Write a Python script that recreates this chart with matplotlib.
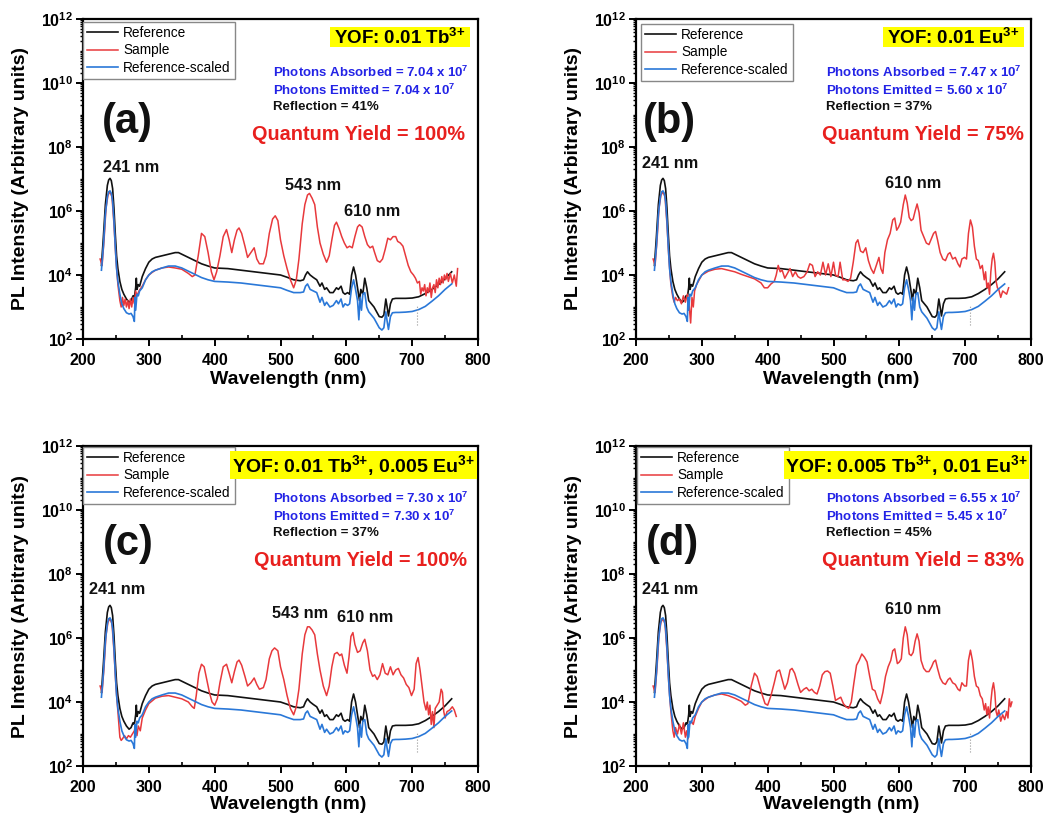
import numpy as np
import matplotlib
matplotlib.use('Agg')
import matplotlib.pyplot as plt
from matplotlib.ticker import LogLocator, MultipleLocator, FuncFormatter, NullFormatter
from matplotlib.patches import Rectangle

plt.rcParams['font.family'] = ['Liberation Sans', 'DejaVu Sans']
plt.rcParams['mathtext.fontset'] = 'custom'
plt.rcParams['mathtext.rm'] = 'Liberation Sans'
plt.rcParams['mathtext.bf'] = 'Liberation Sans:bold'
plt.rcParams['mathtext.it'] = 'Liberation Sans:italic'

# ---------------- data (log10 of PL intensity) ----------------
wl_ref = [228, 231, 234, 237, 239, 241, 243, 245, 247, 249, 251, 253, 256, 259, 262, 266, 270, 273,
          276, 278, 280, 281, 282, 284, 286, 290, 295, 300, 305, 310, 320, 330, 340, 345, 350, 360,
          370, 380, 390, 400, 420, 440, 460, 480, 500, 510, 520, 530, 535, 538, 541, 545, 550, 555,
          560, 563, 567, 570, 575, 580, 585, 588, 592, 595, 598, 602, 605, 608, 611, 614, 617, 620,
          622, 625, 628, 631, 634, 638, 642, 646, 650, 654, 657, 660, 662, 664, 667, 670, 675, 680,
          690, 700, 710, 720, 730, 740, 750, 760]
reference_log = [4.3, 5.2, 6.2, 6.8, 6.97, 7.02, 6.95, 6.7, 6.1, 5.3, 4.6, 4.2, 3.8, 3.55, 3.4, 3.25,
                 3.15, 3.2, 3.35, 3.3, 3.6, 3.9, 3.55, 3.7, 3.65, 3.95, 4.2, 4.4, 4.5, 4.55, 4.6, 4.65,
                 4.7, 4.7, 4.65, 4.55, 4.45, 4.35, 4.28, 4.22, 4.2, 4.15, 4.1, 4.05, 4.0, 3.93, 3.85,
                 3.82, 3.85, 4.0, 4.1, 4.0, 3.92, 3.85, 3.65, 3.75, 3.55, 3.6, 3.45, 3.45, 3.6, 3.55,
                 3.65, 3.45, 3.4, 3.45, 3.4, 4.0, 4.25, 4.0, 3.6, 3.2, 3.55, 3.4, 3.9, 3.6, 3.2, 3.1,
                 3.0, 2.85, 2.7, 2.68, 2.75, 3.25, 3.0, 2.72, 3.1, 3.25, 3.27, 3.27, 3.27, 3.28, 3.32,
                 3.42, 3.55, 3.7, 3.88, 4.1]

wl_scaled = [228, 231, 234, 237, 239, 241, 243, 245, 247, 249, 251, 253, 256, 259, 262, 266, 270, 273,
             276, 278, 279, 280, 282, 284, 286, 290, 295, 300, 305, 310, 320, 330, 340, 350, 360, 370,
             380, 390, 400, 420, 440, 460, 480, 500, 510, 520, 530, 535, 538, 541, 545, 550, 555, 560,
             563, 567, 570, 575, 580, 585, 588, 592, 595, 598, 602, 605, 608, 611, 614, 617, 619, 621,
             623, 625, 628, 631, 634, 638, 642, 646, 650, 654, 657, 660, 662, 664, 667, 670, 675, 680,
             690, 700, 710, 720, 730, 740, 750, 760]
scaled_log = [4.15, 4.9, 5.9, 6.45, 6.6, 6.63, 6.55, 6.3, 5.7, 4.9, 4.2, 3.8, 3.4, 3.1, 2.95, 2.82,
              2.78, 2.8, 2.7, 2.55, 3.3, 2.9, 3.4, 3.35, 3.5, 3.6, 3.85, 4.0, 4.1, 4.15, 4.22, 4.28,
              4.28, 4.22, 4.12, 4.02, 3.92, 3.85, 3.8, 3.78, 3.75, 3.7, 3.65, 3.6, 3.52, 3.45, 3.45,
              3.47, 3.65, 3.72, 3.55, 3.5, 3.45, 3.15, 3.3, 3.05, 3.15, 3.0, 3.05, 3.2, 3.1, 3.25,
              3.0, 3.1, 3.05, 3.1, 3.6, 3.85, 3.55, 3.2, 2.6, 3.3, 2.9, 3.4, 3.45, 3.0, 2.85, 2.75,
              2.65, 2.5, 2.35, 2.28, 2.35, 2.85, 2.55, 2.3, 2.7, 2.82, 2.83, 2.83, 2.84, 2.86, 2.92,
              3.02, 3.18, 3.35, 3.55, 3.72]

wl_start = [226, 229, 232, 235, 238, 241, 244, 247, 250, 253]
start_log = [4.5, 4.3, 5.1, 6.1, 6.5, 6.6, 6.45, 5.6, 4.5, 3.7]

wl_a = [256, 258, 260, 262, 264, 266, 268, 270, 272, 274, 276, 278, 280, 282, 285, 290, 295, 300, 305,
        310, 320, 330, 340, 350, 360, 366, 370, 375, 380, 385, 390, 395, 399, 403, 408, 413, 418, 422,
        426, 430, 434, 437, 441, 446, 450, 455, 460, 464, 468, 474, 478, 483, 488, 492, 496, 500, 505,
        510, 515, 520, 524, 528, 533, 537, 541, 544, 548, 552, 556, 560, 565, 570, 574, 578, 582, 585,
        589, 593, 597, 601, 605, 609, 613, 617, 620, 624, 628, 632, 636, 640, 643, 647, 651, 655, 659,
        663, 667, 671, 675, 678, 682, 686, 690, 694, 698, 702, 705, 708, 711, 713, 715, 717, 719, 721,
        723, 725, 727, 729, 731, 733, 735, 737, 739, 741, 743, 745, 747, 749, 751, 753, 755, 758, 761,
        764, 767, 769]
sample_a_log = [3.2, 3.0, 3.3, 3.05, 3.25, 3.0, 3.2, 2.95, 3.25, 3.0, 3.3, 3.1, 3.5, 3.35, 3.5, 3.65,
                3.85, 4.0, 4.08, 4.15, 4.22, 4.25, 4.22, 4.18, 4.05, 3.95, 4.0, 4.6, 5.3, 5.2, 4.7,
                4.1, 3.85, 4.1, 4.6, 5.2, 5.42, 5.1, 4.7, 5.1, 5.4, 5.47, 5.3, 4.9, 4.55, 4.7, 4.85,
                4.5, 4.35, 4.35, 4.6, 5.3, 5.75, 5.85, 5.7, 5.1, 4.6, 4.2, 3.85, 3.6, 3.85, 4.5, 5.6,
                6.2, 6.5, 6.55, 6.4, 6.2, 5.5, 5.0, 4.65, 4.4, 4.6, 5.1, 5.55, 5.65, 5.45, 5.2, 5.0,
                4.85, 4.9, 4.85, 5.2, 5.5, 5.57, 5.5, 5.2, 4.95, 4.85, 4.9, 4.7, 4.45, 4.4, 4.5, 4.8,
                5.15, 5.1, 5.2, 5.2, 5.05, 5.0, 4.9, 4.6, 4.3, 4.1, 4.0, 3.9, 3.75, 3.8, 3.4, 3.6,
                3.5, 3.7, 3.35, 3.6, 3.45, 3.75, 3.3, 3.6, 3.7, 3.45, 3.85, 3.6, 3.9, 3.7, 3.95, 3.75,
                4.0, 3.85, 4.05, 3.8, 4.05, 3.75, 4.0, 3.65, 4.2]

wl_b = [256, 258, 260, 263, 266, 269, 272, 275, 278, 281, 283, 285, 287, 289, 292, 296, 300, 310, 320,
        330, 340, 350, 360, 370, 380, 390, 395, 400, 405, 410, 413, 416, 419, 422, 426, 430, 434, 438,
        442, 446, 450, 455, 460, 464, 468, 472, 476, 480, 484, 488, 492, 496, 500, 503, 507, 510, 514,
        518, 522, 526, 530, 534, 537, 541, 545, 549, 553, 557, 561, 565, 569, 572, 575, 578, 582, 586,
        590, 593, 596, 599, 602, 606, 609, 612, 615, 618, 621, 624, 627, 630, 633, 637, 641, 645, 649,
        652, 655, 658, 662, 666, 670, 674, 677, 681, 685, 689, 692, 695, 699, 702, 705, 708, 711, 714,
        717, 720, 723, 726, 729, 731, 733, 735, 737, 739, 741, 743, 745, 747, 749, 751, 754, 757, 760,
        763, 766]
sample_b_log = [3.3, 3.15, 3.3, 3.2, 3.25, 3.1, 3.35, 3.15, 3.4, 3.0, 2.5, 3.3, 3.0, 3.5, 3.7, 3.85,
                4.0, 4.12, 4.18, 4.2, 4.15, 4.1, 4.02, 3.95, 3.88, 3.75, 3.6, 3.6, 3.72, 3.8, 4.0,
                4.3, 4.1, 4.15, 3.9, 4.05, 4.2, 3.95, 4.1, 3.95, 3.9, 3.95, 4.1, 4.35, 4.3, 3.95, 4.1,
                4.0, 4.4, 4.0, 4.35, 3.95, 4.4, 4.0, 3.95, 4.4, 3.85, 3.85, 3.8, 3.9, 4.4, 5.0, 5.1,
                4.75, 4.7, 4.85, 4.45, 4.2, 4.05, 4.3, 4.55, 4.2, 4.05, 4.7, 5.1, 5.3, 5.72, 5.78, 5.4,
                5.5, 5.65, 6.2, 6.5, 6.25, 5.8, 5.7, 5.75, 6.0, 6.22, 5.95, 5.4, 5.2, 5.0, 4.95, 5.15,
                5.3, 5.36, 5.1, 4.7, 4.5, 4.45, 4.65, 4.7, 4.5, 4.55, 4.35, 4.25, 4.5, 4.55, 4.5, 5.3,
                5.72, 5.5, 4.9, 4.5, 4.45, 4.2, 4.3, 3.85, 4.1, 3.6, 3.75, 3.4, 4.1, 4.5, 4.68, 4.4,
                3.8, 3.6, 3.55, 3.3, 3.5, 3.45, 3.4, 3.6]

wl_c = [256, 258, 260, 263, 266, 269, 272, 275, 278, 280, 282, 284, 287, 290, 295, 300, 310, 320, 330,
        340, 350, 360, 366, 369, 372, 376, 380, 384, 388, 392, 396, 400, 404, 408, 413, 418, 422, 426,
        430, 434, 437, 441, 446, 450, 455, 460, 464, 468, 474, 478, 483, 487, 491, 496, 500, 505, 510,
        515, 520, 524, 528, 533, 537, 541, 544, 548, 552, 556, 560, 565, 570, 574, 578, 582, 586, 590,
        593, 597, 601, 604, 607, 610, 613, 617, 621, 625, 628, 632, 636, 640, 643, 647, 651, 655, 659,
        663, 667, 671, 675, 679, 683, 687, 691, 695, 699, 703, 706, 709, 712, 715, 718, 721, 723, 725,
        727, 729, 731, 733, 735, 738, 741, 744, 746, 748, 750, 753, 757, 761, 764, 767]
sample_c_log = [2.9, 2.8, 2.85, 2.95, 2.85, 2.95, 2.9, 3.0, 3.1, 3.3, 2.95, 3.25, 3.1, 3.5, 3.75, 3.95,
                4.12, 4.18, 4.2, 4.15, 4.1, 4.0, 3.85, 3.8, 4.2, 4.9, 5.18, 5.1, 4.7, 4.3, 4.0, 3.9,
                4.1, 4.6, 5.1, 5.18, 4.9, 4.6, 4.95, 5.25, 5.31, 5.15, 4.8, 4.5, 4.6, 4.75, 4.55, 4.4,
                4.45, 4.7, 5.35, 5.6, 5.69, 5.6, 5.1, 4.7, 4.2, 3.8, 3.6, 3.85, 4.4, 5.5, 6.1, 6.35,
                6.35, 6.25, 6.1, 5.5, 5.0, 4.5, 4.2, 4.5, 5.1, 5.5, 5.55, 5.45, 5.5, 5.15, 4.9, 5.4,
                6.05, 6.17, 5.8, 5.55, 5.6, 5.85, 5.96, 5.6, 5.0, 4.8, 4.85, 4.7, 4.85, 5.2, 4.9, 4.85,
                5.1, 4.85, 5.0, 5.05, 4.85, 4.75, 4.55, 4.45, 4.2, 4.4, 5.2, 5.39, 5.0, 4.5, 4.0, 3.75,
                4.0, 3.6, 3.9, 3.3, 3.7, 3.2, 3.8, 3.9, 4.0, 4.4, 4.3, 3.7, 3.5, 3.7, 3.75, 3.85, 3.75,
                3.55]

wl_d = [256, 258, 260, 263, 266, 269, 272, 275, 277, 279, 281, 284, 287, 290, 295, 300, 310, 320, 330,
        340, 350, 360, 366, 370, 375, 380, 384, 388, 392, 396, 400, 405, 410, 414, 418, 422, 426, 430,
        434, 437, 441, 446, 450, 455, 459, 463, 467, 471, 475, 479, 483, 487, 491, 495, 499, 503, 507,
        511, 515, 519, 523, 527, 531, 535, 539, 543, 547, 551, 555, 559, 563, 567, 571, 575, 579, 583,
        587, 590, 593, 597, 600, 603, 606, 609, 612, 615, 618, 621, 624, 627, 630, 633, 637, 641, 645,
        649, 652, 655, 658, 662, 666, 670, 674, 677, 681, 685, 689, 692, 695, 699, 702, 705, 708, 711,
        714, 717, 720, 723, 726, 729, 731, 733, 735, 737, 739, 741, 743, 745, 747, 749, 751, 754, 757,
        760, 763, 765, 767, 769, 771]
sample_d_log = [3.1, 2.9, 3.2, 3.0, 3.3, 3.0, 3.35, 2.9, 3.1, 2.85, 3.3, 3.4, 3.3, 3.55, 3.8, 4.0, 4.15,
                4.22, 4.25, 4.2, 4.12, 4.02, 3.9, 3.95, 4.5, 4.9, 4.8, 4.5, 4.2, 3.95, 3.9, 4.2, 4.6,
                4.95, 5.0, 4.7, 4.4, 4.6, 5.0, 5.05, 4.9, 4.55, 4.3, 4.4, 4.45, 4.35, 4.4, 4.3, 4.25,
                4.5, 4.85, 4.95, 4.97, 4.9, 4.5, 4.05, 4.1, 4.15, 3.95, 3.85, 3.8, 4.0, 4.6, 5.15, 5.3,
                5.5, 5.4, 5.25, 4.8, 4.4, 4.35, 4.1, 3.95, 4.3, 4.8, 5.1, 5.3, 5.6, 5.66, 5.2, 5.25,
                5.35, 6.0, 6.35, 6.1, 5.5, 5.45, 5.55, 5.9, 6.13, 5.9, 5.3, 5.05, 4.95, 4.95, 5.1,
                5.25, 5.31, 5.05, 4.75, 4.6, 4.55, 4.7, 4.75, 4.6, 4.55, 4.4, 4.35, 4.6, 4.5, 4.5, 5.3,
                5.62, 5.3, 4.8, 4.5, 4.45, 4.2, 4.1, 3.75, 3.95, 3.6, 3.85, 3.5, 4.0, 4.4, 4.6, 4.3,
                3.7, 3.55, 3.75, 3.4, 3.6, 3.45, 3.7, 3.5, 4.1, 3.85, 4.0]

marker_wl = [707, 707]
marker_log = [2.45, 3.05]

panel_labels = ['(a)', '(b)', '(c)', '(d)']
SUP = r'$^{\mathbf{3{+}}}$'
compositions = ['YOF: 0.01 Tb' + SUP,
                'YOF: 0.01 Eu' + SUP,
                'YOF: 0.01 Tb' + SUP + ', 0.005 Eu' + SUP,
                'YOF: 0.005 Tb' + SUP + ', 0.01 Eu' + SUP]
absorbed = ['7.04', '7.47', '7.30', '6.55']
emitted = ['7.04', '5.60', '7.30', '5.45']
reflection = ['41%', '37%', '37%', '45%']
quantum_yield = ['100%', '75%', '100%', '83%']
legend_labels = ['Reference', 'Sample', 'Reference-scaled']
sample_wls = [wl_a, wl_b, wl_c, wl_d]
sample_logs = [sample_a_log, sample_b_log, sample_c_log, sample_d_log]

# ---------------- layout (pixels) ----------------
W, H = 1048, 818
fig = plt.figure(figsize=(W / 100, H / 100), dpi=100)

def fx(x):
    return x / W

def fy(y):
    return 1 - y / H

axes_px = [(83, 19, 478, 339), (636, 19, 1031, 339), (83, 446, 478, 766), (636, 446, 1031, 766)]
xlabel_off = [-0.128, -0.128, -0.12, -0.12]
legend_px = [(83, 22), (641, 24), (83, 447), (637, 447)]
yof_box_px = [(330, 27, 470, 47), (883, 27, 1024, 47), (230, 451, 477, 479), (784, 451, 1029, 479)]
yof_size = [13.5, 13.5, 14.0, 14.0]
info_left = [273, 826, 273, 826]
info_top = [72, 72, 498, 498]
qy_left = [252, 822, 254, 822]
label_xy = [(127, 122), (669, 122), (128, 544), (672, 544)]
peak_texts = [
    [('241 nm', 131, 167), ('543 nm', 313, 185), ('610 nm', 372, 211)],
    [('241 nm', 670, 163), ('610 nm', 913, 183)],
    [('241 nm', 117, 590), ('543 nm', 300, 614), ('610 nm', 365, 618)],
    [('241 nm', 670, 590), ('610 nm', 913, 609)],
]

C_BLACK = '#111111'
C_RED = '#e8393c'
C_BLUE = '#2a78d8'
C_TXT_BLUE = '#2323e6'
C_QY = '#e8201e'

def yfmt(v, pos):
    return r'$\mathbf{10^{%d}}$' % int(round(np.log10(v)))

for i in range(4):
    x0, y0, x1, y1 = axes_px[i]
    ax = fig.add_axes([fx(x0), fy(y1), (x1 - x0) / W, (y1 - y0) / H])
    ax.set_yscale('log')
    ax.plot(wl_ref, np.power(10.0, reference_log), color=C_BLACK, lw=1.2, label=legend_labels[0])
    ax.plot(wl_start + sample_wls[i], np.power(10.0, start_log + sample_logs[i]),
            color=C_RED, lw=1.1, label=legend_labels[1])
    ax.plot(wl_scaled, np.power(10.0, scaled_log), color=C_BLUE, lw=1.2, label=legend_labels[2])
    ax.plot(marker_wl, np.power(10.0, marker_log), color='#999999', lw=0.8, ls=':')
    ax.set_xlim(200, 800)
    ax.set_ylim(1e2, 1e12)

    ax.yaxis.set_major_locator(LogLocator(base=100.0, numticks=10))
    ax.yaxis.set_minor_locator(LogLocator(base=10.0, subs=np.arange(1, 10), numticks=20))
    ax.yaxis.set_major_formatter(FuncFormatter(yfmt))
    ax.yaxis.set_minor_formatter(NullFormatter())
    ax.xaxis.set_major_locator(MultipleLocator(100))
    ax.xaxis.set_minor_locator(MultipleLocator(50))
    ax.tick_params(axis='both', which='major', direction='out', length=5, width=1.4,
                   labelsize=11.5, pad=2)
    ax.tick_params(axis='x', which='major', pad=5)
    ax.tick_params(axis='y', which='minor', direction='out', length=2.5, width=1.0)
    ax.tick_params(axis='x', which='minor', direction='in', length=3, width=1.2)
    for lab in ax.get_xticklabels():
        lab.set_fontweight('bold')
    for s in ax.spines.values():
        s.set_linewidth(1.6)

    ax.set_xlabel('Wavelength (nm)', fontsize=14, fontweight='bold')
    ax.set_ylabel('PL Intensity (Arbitrary units)', fontsize=14, fontweight='bold')
    ax.xaxis.set_label_coords(0.52, xlabel_off[i])
    ax.xaxis.label.set_va('center')
    ax.yaxis.set_label_coords(-0.157, 0.5)
    ax.yaxis.label.set_va('center')

    lx, ly = legend_px[i]
    leg = ax.legend(loc='upper left', bbox_to_anchor=(fx(lx), fy(ly)),
                    bbox_transform=fig.transFigure, borderaxespad=0, fontsize=9.8,
                    frameon=True, fancybox=False, edgecolor='#888888', framealpha=1,
                    handlelength=2.3, handletextpad=0.35, labelspacing=0.25, borderpad=0.3)
    leg.get_frame().set_linewidth(1.0)

    bx0, by0, bx1, by1 = yof_box_px[i]
    fig.patches.append(Rectangle((fx(bx0), fy(by1)), (bx1 - bx0) / W, (by1 - by0) / H,
                                 transform=fig.transFigure, facecolor='#ffff00',
                                 edgecolor='none', zorder=5))
    fig.text(fx((bx0 + bx1) / 2), fy((by0 + by1) / 2 + 1), compositions[i], ha='center',
             va='center', fontsize=yof_size[i], fontweight='bold', zorder=6)

    il, it = info_left[i], info_top[i]
    fig.text(fx(il), fy(it), r'Photons Absorbed = %s x 10$^{\mathbf{7}}$' % absorbed[i],
             ha='left', va='center', fontsize=9.5, fontweight='bold', color=C_TXT_BLUE)
    fig.text(fx(il), fy(it + 18), r'Photons Emitted = %s x 10$^{\mathbf{7}}$' % emitted[i],
             ha='left', va='center', fontsize=9.5, fontweight='bold', color=C_TXT_BLUE)
    fig.text(fx(il), fy(it + 35), 'Reflection = %s' % reflection[i],
             ha='left', va='center', fontsize=9.5, fontweight='bold', color='#111111')
    fig.text(fx(qy_left[i]), fy(it + 63), 'Quantum Yield = %s' % quantum_yield[i],
             ha='left', va='center', fontsize=14.3, fontweight='bold', color=C_QY)

    lbx, lby = label_xy[i]
    fig.text(fx(lbx), fy(lby), panel_labels[i], ha='center', va='center', fontsize=30,
             fontweight='bold', color='#111111')
    for txt, tx, ty in peak_texts[i]:
        fig.text(fx(tx), fy(ty), txt, ha='center', va='center', fontsize=11.7,
                 fontweight='bold', color='#111111')

fig.savefig('out.png', dpi=100)
